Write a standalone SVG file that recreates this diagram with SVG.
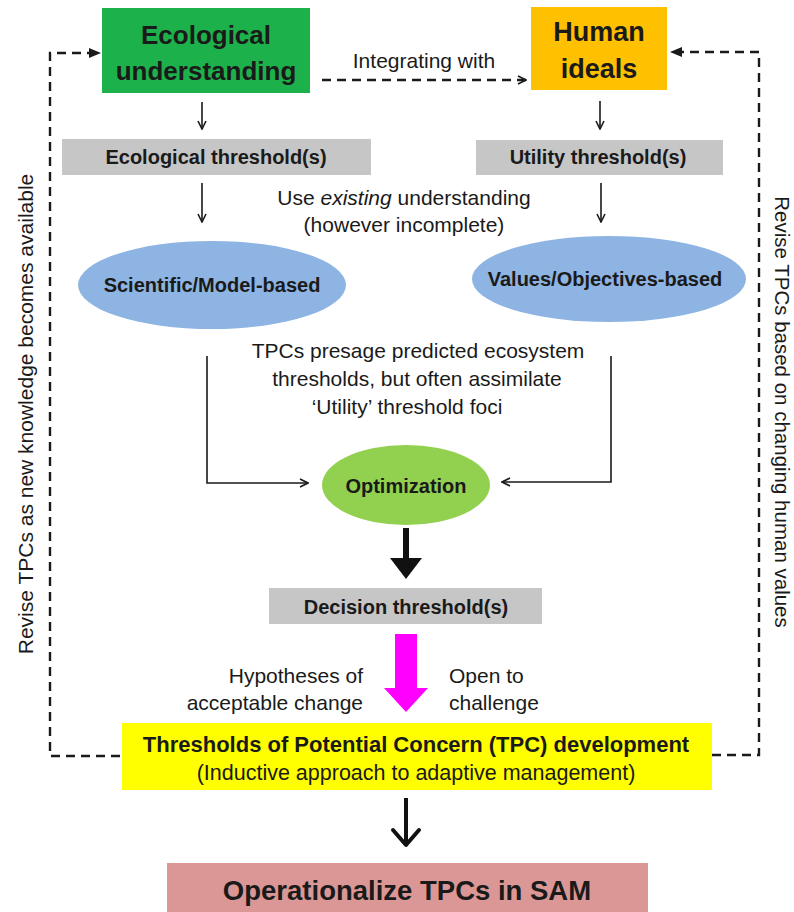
<svg xmlns="http://www.w3.org/2000/svg" width="794" height="912" viewBox="0 0 794 912">
<style>
  .t { font-family: "Liberation Sans", Arial, sans-serif; fill: #1a1a1a; }
  .b { font-weight: bold; }
  .reg { font-size: 21px; }
  .lbl { font-size: 20px; font-weight: bold; }
  .thin { fill: none; stroke: #1a1a1a; stroke-width: 1.6; }
  .dash { fill: none; stroke: #1a1a1a; stroke-width: 2.4; stroke-dasharray: 9 6; }
  .gray { fill: #c6c6c6; }
  .blue { fill: #8db4e2; }
</style>
<defs>
  <marker id="chev" viewBox="0 0 10 10" refX="9" refY="5" markerWidth="10" markerHeight="10" markerUnits="userSpaceOnUse" orient="auto">
    <path d="M1,1 L9,5 L1,9" fill="none" stroke="#1a1a1a" stroke-width="1.6"/>
  </marker>
  <marker id="tri" viewBox="0 0 12 10" refX="11" refY="5" markerWidth="12" markerHeight="10" markerUnits="userSpaceOnUse" orient="auto">
    <path d="M0,0 L12,5 L0,10 Z" fill="#1a1a1a"/>
  </marker>
</defs>
<rect width="794" height="912" fill="#ffffff"/>

<g id="connectors">
  <!-- integrating with -->
  <path class="dash" d="M322,80 H526" marker-end="url(#chev)"/>
  <!-- left feedback loop -->
  <path class="dash" d="M120,756 H50 V53 H100" marker-end="url(#tri)"/>
  <!-- right feedback loop -->
  <path class="dash" d="M712,755 H759 V52 H671" marker-end="url(#tri)"/>
  <!-- thin vertical arrows -->
  <path class="thin" d="M202,102 V129" marker-end="url(#chev)"/>
  <path class="thin" d="M202,183 V222" marker-end="url(#chev)"/>
  <path class="thin" d="M600,101 V129" marker-end="url(#chev)"/>
  <path class="thin" d="M601,183 V222" marker-end="url(#chev)"/>
  <!-- elbows into optimization -->
  <path class="thin" d="M207,356 V483 H308" marker-end="url(#chev)"/>
  <path class="thin" d="M611,356 V482 H502" marker-end="url(#chev)"/>
  <!-- thick arrow optimization -> decision -->
  <line x1="406" y1="528" x2="406" y2="560" stroke="#111" stroke-width="6"/>
  <polygon points="390,558 422,558 406,579" fill="#111"/>
  <!-- magenta arrow -->
  <polygon points="395,634 417,634 417,688 428,688 406,712 384,688 395,688" fill="#ff00ff"/>
  <!-- TPC -> SAM -->
  <line x1="406" y1="798" x2="406" y2="843" stroke="#111" stroke-width="4"/>
  <path d="M393,830 L406,845 L419,830" fill="none" stroke="#111" stroke-width="4" stroke-linejoin="round" stroke-linecap="round"/>
</g>

<g id="ecological-understanding">
  <rect x="102" y="8" width="208" height="85" fill="#1db14b"/>
  <text class="t b" x="206" y="44" font-size="26" text-anchor="middle">Ecological</text>
  <text class="t b" x="206" y="80" font-size="26" text-anchor="middle">understanding</text>
</g>

<g id="human-ideals">
  <rect x="531" y="7" width="136" height="83" fill="#ffc000"/>
  <text class="t b" x="599" y="41" font-size="27" text-anchor="middle">Human</text>
  <text class="t b" x="599" y="78" font-size="27" text-anchor="middle">ideals</text>
</g>

<g id="integrating-label">
  <text class="t" x="424" y="68" font-size="21" text-anchor="middle">Integrating with</text>
</g>

<g id="ecological-threshold">
  <rect class="gray" x="62" y="139" width="309" height="36"/>
  <text class="t lbl" x="216" y="164" text-anchor="middle">Ecological threshold(s)</text>
</g>

<g id="utility-threshold">
  <rect class="gray" x="476" y="140" width="247" height="35"/>
  <text class="t lbl" x="598" y="164" text-anchor="middle">Utility threshold(s)</text>
</g>

<g id="use-existing-label">
  <text class="t reg" x="404" y="205" text-anchor="middle">Use <tspan font-style="italic">existing</tspan> understanding</text>
  <text class="t reg" x="404" y="232" text-anchor="middle">(however incomplete)</text>
</g>

<g id="scientific-model">
  <ellipse class="blue" cx="212" cy="285" rx="134" ry="44"/>
  <text class="t lbl" x="212" y="292" text-anchor="middle" fill="#14203a">Scientific/Model-based</text>
</g>

<g id="values-objectives">
  <ellipse class="blue" cx="609" cy="279" rx="137" ry="43"/>
  <text class="t lbl" x="605" y="286" text-anchor="middle">Values/Objectives-based</text>
</g>

<g id="tpcs-presage-label">
  <text class="t reg" x="418" y="358" text-anchor="middle">TPCs presage predicted ecosystem</text>
  <text class="t reg" x="417" y="386" text-anchor="middle">thresholds, but often assimilate</text>
  <text class="t reg" x="407" y="414" text-anchor="middle">‘Utility’ threshold foci</text>
</g>

<g id="optimization">
  <ellipse cx="406" cy="485" rx="84" ry="40" fill="#92d050"/>
  <text class="t lbl" x="406" y="493" text-anchor="middle">Optimization</text>
</g>

<g id="decision-threshold">
  <rect class="gray" x="269" y="588" width="273" height="36"/>
  <text class="t lbl" x="406" y="614" text-anchor="middle">Decision threshold(s)</text>
</g>

<g id="magenta-labels">
  <text class="t reg" x="363" y="683" text-anchor="end">Hypotheses of</text>
  <text class="t reg" x="363" y="710" text-anchor="end">acceptable change</text>
  <text class="t reg" x="449" y="683">Open to</text>
  <text class="t reg" x="449" y="710">challenge</text>
</g>

<g id="tpc-development">
  <rect x="122" y="723" width="590" height="67" fill="#ffff00"/>
  <text class="t b" x="416" y="752" font-size="22" text-anchor="middle">Thresholds of Potential Concern (TPC) development</text>
  <text class="t" x="416" y="780" font-size="21.5" text-anchor="middle">(Inductive approach to adaptive management)</text>
</g>

<g id="operationalize">
  <rect x="167" y="863" width="481" height="49" fill="#db9795"/>
  <text class="t b" x="407" y="900" font-size="27.5" text-anchor="middle">Operationalize TPCs in SAM</text>
</g>

<g id="left-loop-label">
  <text class="t" font-size="21" text-anchor="middle" transform="translate(33,414) rotate(-90)">Revise TPCs as new knowledge becomes available</text>
</g>

<g id="right-loop-label">
  <text class="t" font-size="20.5" text-anchor="middle" transform="translate(775,412) rotate(90)">Revise TPCs based on changing human values</text>
</g>
</svg>
